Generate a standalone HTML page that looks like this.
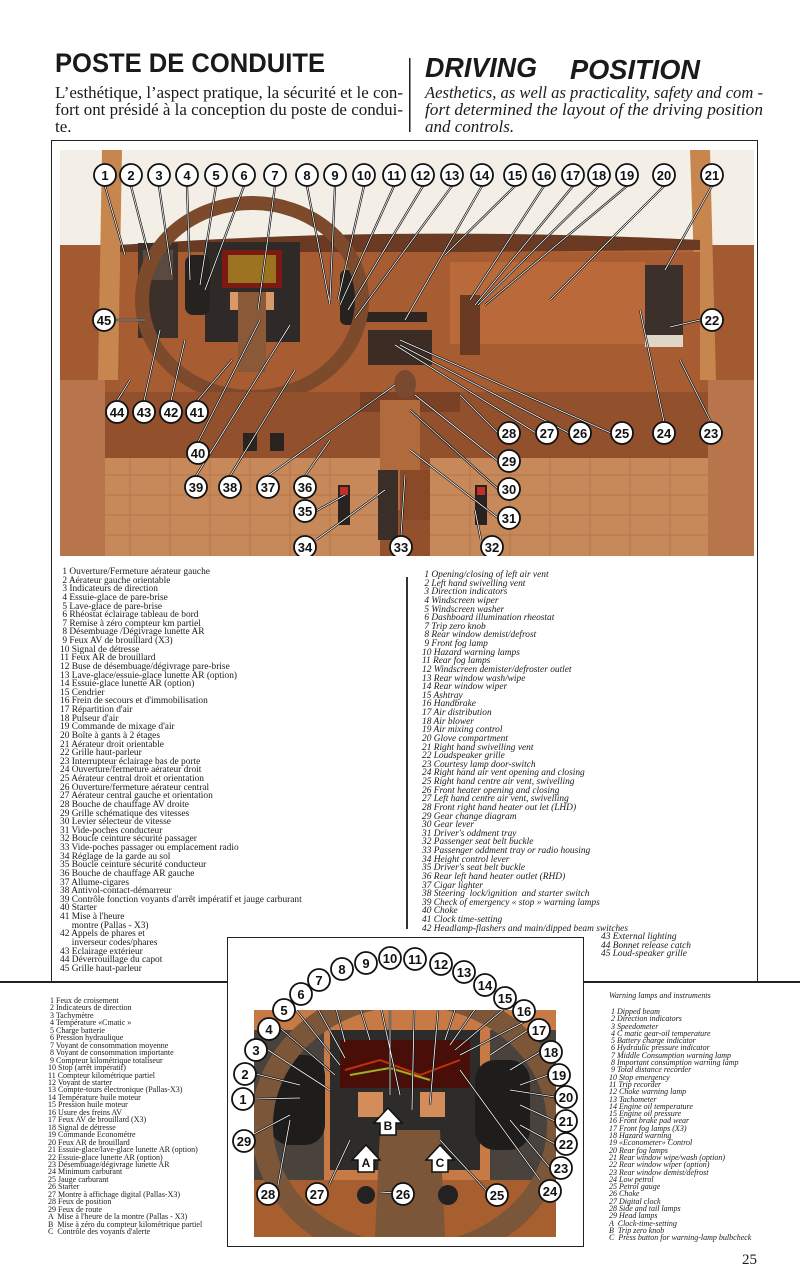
<!DOCTYPE html>
<html><head><meta charset="utf-8"><style>
*{margin:0;padding:0;box-sizing:border-box}
body{width:800px;height:1269px;background:#fff;position:relative;overflow:hidden;font-family:"Liberation Serif",serif;color:#1a1a1a}
.a{position:absolute}
.leg{font-size:9.4px;line-height:8.62px;white-space:pre}
.legi{font-size:9.4px;line-height:8.62px;white-space:pre;font-style:italic}
.sm{font-size:8px;line-height:7.45px;white-space:pre}
.smi{font-size:8px;line-height:7.3px;white-space:pre;font-style:italic}
</style></head><body>
<svg class="a" style="left:0;top:0" width="800" height="140" viewBox="0 0 800 140">
<g fill="#1a1a1a">
<text x="55" y="72" font-family="Liberation Sans, sans-serif" font-weight="bold" font-size="27" textLength="270" lengthAdjust="spacingAndGlyphs">POSTE DE CONDUITE</text>
<text x="425" y="77" font-family="Liberation Sans, sans-serif" font-weight="bold" font-style="italic" font-size="28" textLength="112" lengthAdjust="spacingAndGlyphs">DRIVING</text>
<text x="570" y="79" font-family="Liberation Sans, sans-serif" font-weight="bold" font-style="italic" font-size="28" textLength="130" lengthAdjust="spacingAndGlyphs">POSITION</text>
<g font-family="Liberation Serif, serif" font-size="17">
<text x="55" y="98" textLength="348" lengthAdjust="spacingAndGlyphs">L’esthétique, l’aspect pratique, la sécurité et le con-</text>
<text x="55" y="115" textLength="348" lengthAdjust="spacingAndGlyphs">fort ont présidé à la conception du poste de condui-</text>
<text x="55" y="132">te.</text>
</g>
<g font-family="Liberation Serif, serif" font-size="17" font-style="italic">
<text x="425" y="98" textLength="338" lengthAdjust="spacingAndGlyphs">Aesthetics, as well as practicality, safety and com -</text>
<text x="425" y="115" textLength="338" lengthAdjust="spacingAndGlyphs">fort determined the layout of the driving position</text>
<text x="425" y="132">and controls.</text>
</g>
</g>
<rect x="409" y="58" width="1.5" height="74" fill="#222"/>
</svg>

<div class="a" style="left:51px;top:140px;width:707px;height:842px;border:1.5px solid #222"></div>
<div class="a" style="left:406px;top:577px;width:1.5px;height:352px;background:#333"></div>

<svg class="a" style="left:60px;top:150px" width="694" height="406" viewBox="60 150 694 406">
<rect x="60" y="150" width="694" height="406" fill="#b36536"/>
<rect x="60" y="150" width="694" height="95" fill="#f3eee6"/>
<rect x="60" y="245" width="60" height="311" fill="#a45a30"/>
<rect x="700" y="245" width="54" height="311" fill="#a45a30"/>
<polygon points="102,150 122,150 118,380 98,380" fill="#c8864f"/>
<polygon points="690,150 710,150 716,380 698,380" fill="#c8864f"/>
<path d="M120,245 Q400,225 700,240 L700,250 L120,255Z" fill="#6a3a22"/>
<rect x="120" y="252" width="580" height="140" fill="#a85c31"/>
<rect x="138" y="243" width="40" height="95" fill="#3b302a"/>
<rect x="143" y="250" width="30" height="30" fill="#5a4a40"/>
<rect x="645" y="265" width="38" height="70" fill="#3b302a"/>
<rect x="645" y="335" width="38" height="12" fill="#e0d6c8"/>
<rect x="450" y="262" width="195" height="82" fill="#b9693a"/>
<rect x="460" y="295" width="20" height="60" fill="#6b3a22"/>
<rect x="368" y="330" width="64" height="35" fill="#3c2c24"/>
<rect x="365" y="312" width="62" height="10" fill="#2e2420"/>
<rect x="205" y="242" width="95" height="100" fill="#2f2a28"/>
<rect x="222" y="250" width="60" height="38" fill="#7a1a10"/>
<rect x="228" y="255" width="48" height="28" fill="#b8c030" opacity="0.55"/>
<rect x="230" y="292" width="14" height="18" fill="#d89868"/>
<rect x="260" y="292" width="14" height="18" fill="#d89868"/>
<rect x="185" y="255" width="25" height="60" rx="8" fill="#262220"/>
<rect x="340" y="270" width="20" height="55" rx="6" fill="#262220"/>
<ellipse cx="252" cy="300" rx="110" ry="97" fill="none" stroke="#7d4a2c" stroke-width="14"/>
<rect x="238" y="292" width="28" height="80" fill="#8a5a38"/>
<rect x="60" y="392" width="694" height="164" fill="#93502c"/>
<rect x="360" y="392" width="100" height="20" fill="#7a4124"/>
<rect x="380" y="400" width="40" height="110" fill="#b06a3c"/>
<ellipse cx="405" cy="384" rx="11" ry="14" fill="#7a4a30"/>
<rect x="243" y="433" width="14" height="18" fill="#2a2420"/>
<rect x="270" y="433" width="14" height="18" fill="#2a2420"/>
<rect x="60" y="458" width="320" height="98" fill="#c8895a"/>
<rect x="430" y="458" width="324" height="98" fill="#c8895a"/>
<g stroke="#a86a40" stroke-width="1" opacity="0.6">
<path d="M60,475H380M60,495H380M60,515H380M60,535H380M430,475H754M430,495H754M430,515H754M430,535H754"/>
<path d="M90,458V556M130,458V556M170,458V556M210,458V556M250,458V556M290,458V556M330,458V556M470,458V556M510,458V556M550,458V556M590,458V556M630,458V556M670,458V556M710,458V556"/>
</g>
<rect x="378" y="470" width="20" height="70" fill="#3a2e28"/>
<rect x="400" y="470" width="30" height="50" fill="#8a4a28"/>
<rect x="338" y="485" width="12" height="40" fill="#2a2220"/>
<rect x="475" y="485" width="12" height="40" fill="#2a2220"/>
<rect x="340" y="487" width="8" height="8" fill="#c0302a"/>
<rect x="477" y="487" width="8" height="8" fill="#c0302a"/>
<rect x="60" y="380" width="45" height="176" fill="#b8744a"/>
<rect x="708" y="380" width="46" height="176" fill="#b8744a"/>
<g stroke="#111" stroke-width="2.2" fill="none">
<path d="M105,186L125,255M131,186L150,260M159,186L172,275M187,186L190,280M216,186L200,285M244,186L205,290M275,186L258,310M307,186L330,305M335,186L330,300M364,186L338,300M394,186L340,305M423,186L348,310M452,186L355,318M482,186L405,320M515,186L445,255M544,186L470,300M573,186L475,305M599,186L478,305M627,186L485,305M664,186L550,300M712,186L665,270M114,320L145,320M700,320L670,327M117,401L130,380M144,401L160,330M171,401L185,340M197,401L232,360M198,442L260,320M196,476L290,325M230,476L295,370M268,476L395,385M305,476L330,440M316,511L345,495M316,540L385,490M401,536L405,475M481,540L475,510M498,433L460,395M536,433L395,345M569,433L400,345M611,433L400,340M664,422L640,310M711,422L680,360M498,461L415,395M498,489L410,410M498,518L410,450"/>
</g>
<g stroke="#fff" stroke-width="0.8" fill="none">
<path d="M105,186L125,255M131,186L150,260M159,186L172,275M187,186L190,280M216,186L200,285M244,186L205,290M275,186L258,310M307,186L330,305M335,186L330,300M364,186L338,300M394,186L340,305M423,186L348,310M452,186L355,318M482,186L405,320M515,186L445,255M544,186L470,300M573,186L475,305M599,186L478,305M627,186L485,305M664,186L550,300M712,186L665,270M114,320L145,320M700,320L670,327M117,401L130,380M144,401L160,330M171,401L185,340M197,401L232,360M198,442L260,320M196,476L290,325M230,476L295,370M268,476L395,385M305,476L330,440M316,511L345,495M316,540L385,490M401,536L405,475M481,540L475,510M498,433L460,395M536,433L395,345M569,433L400,345M611,433L400,340M664,422L640,310M711,422L680,360M498,461L415,395M498,489L410,410M498,518L410,450"/>
</g>
<g font-family="Liberation Sans, sans-serif" font-weight="bold" font-size="13" text-anchor="middle" fill="#111">
<g fill="#fff" stroke="#111" stroke-width="1.8">
<circle cx="105" cy="175" r="11"/><circle cx="131" cy="175" r="11"/><circle cx="159" cy="175" r="11"/><circle cx="187" cy="175" r="11"/><circle cx="216" cy="175" r="11"/><circle cx="244" cy="175" r="11"/><circle cx="275" cy="175" r="11"/><circle cx="307" cy="175" r="11"/><circle cx="335" cy="175" r="11"/><circle cx="364" cy="175" r="11"/><circle cx="394" cy="175" r="11"/><circle cx="423" cy="175" r="11"/><circle cx="452" cy="175" r="11"/><circle cx="482" cy="175" r="11"/><circle cx="515" cy="175" r="11"/><circle cx="544" cy="175" r="11"/><circle cx="573" cy="175" r="11"/><circle cx="599" cy="175" r="11"/><circle cx="627" cy="175" r="11"/><circle cx="664" cy="175" r="11"/><circle cx="712" cy="175" r="11"/>
<circle cx="104" cy="320" r="11"/><circle cx="712" cy="320" r="11"/>
<circle cx="117" cy="412" r="11"/><circle cx="144" cy="412" r="11"/><circle cx="171" cy="412" r="11"/><circle cx="197" cy="412" r="11"/><circle cx="198" cy="453" r="11"/>
<circle cx="196" cy="487" r="11"/><circle cx="230" cy="487" r="11"/><circle cx="268" cy="487" r="11"/><circle cx="305" cy="487" r="11"/><circle cx="305" cy="511" r="11"/>
<circle cx="305" cy="547" r="11"/><circle cx="401" cy="547" r="11"/><circle cx="492" cy="547" r="11"/>
<circle cx="509" cy="433" r="11"/><circle cx="547" cy="433" r="11"/><circle cx="580" cy="433" r="11"/><circle cx="622" cy="433" r="11"/><circle cx="664" cy="433" r="11"/><circle cx="711" cy="433" r="11"/>
<circle cx="509" cy="461" r="11"/><circle cx="509" cy="489" r="11"/><circle cx="509" cy="518" r="11"/>
</g>
<text x="105" y="180">1</text><text x="131" y="180">2</text><text x="159" y="180">3</text><text x="187" y="180">4</text><text x="216" y="180">5</text><text x="244" y="180">6</text><text x="275" y="180">7</text><text x="307" y="180">8</text><text x="335" y="180">9</text><text x="364" y="180">10</text><text x="394" y="180">11</text><text x="423" y="180">12</text><text x="452" y="180">13</text><text x="482" y="180">14</text><text x="515" y="180">15</text><text x="544" y="180">16</text><text x="573" y="180">17</text><text x="599" y="180">18</text><text x="627" y="180">19</text><text x="664" y="180">20</text><text x="712" y="180">21</text>
<text x="104" y="325">45</text><text x="712" y="325">22</text>
<text x="117" y="417">44</text><text x="144" y="417">43</text><text x="171" y="417">42</text><text x="197" y="417">41</text><text x="198" y="458">40</text>
<text x="196" y="492">39</text><text x="230" y="492">38</text><text x="268" y="492">37</text><text x="305" y="492">36</text><text x="305" y="516">35</text>
<text x="305" y="552">34</text><text x="401" y="552">33</text><text x="492" y="552">32</text>
<text x="509" y="438">28</text><text x="547" y="438">27</text><text x="580" y="438">26</text><text x="622" y="438">25</text><text x="664" y="438">24</text><text x="711" y="438">23</text>
<text x="509" y="466">29</text><text x="509" y="494">30</text><text x="509" y="523">31</text>
</g>
</svg>

<div class="a leg" style="left:60px;top:568px"> 1 Ouverture/Fermeture aérateur gauche
 2 Aérateur gauche orientable
 3 Indicateurs de direction
 4 Essuie-glace de pare-brise
 5 Lave-glace de pare-brise
 6 Rhéostat éclairage tableau de bord
 7 Remise à zéro compteur km partiel
 8 Désembuage /Dégivrage lunette AR
 9 Feux AV de brouillard (X3)
10 Signal de détresse
11 Feux AR de brouillard
12 Buse de désembuage/dégivrage pare-brise
13 Lave-glace/essuie-glace lunette AR (option)
14 Essuie-glace lunette AR (option)
15 Cendrier
16 Frein de secours et d'immobilisation
17 Répartition d'air
18 Pulseur d'air
19 Commande de mixage d'air
20 Boîte à gants à 2 étages
21 Aérateur droit orientable
22 Grille haut-parleur
23 Interrupteur éclairage bas de porte
24 Ouverture/fermeture aérateur droit
25 Aérateur central droit et orientation
26 Ouverture/fermeture aérateur central
27 Aérateur central gauche et orientation
28 Bouche de chauffage AV droite
29 Grille schématique des vitesses
30 Levier sélecteur de vitesse
31 Vide-poches conducteur
32 Boucle ceinture sécurité passager
33 Vide-poches passager ou emplacement radio
34 Réglage de la garde au sol
35 Boucle ceinture sécurité conducteur
36 Bouche de chauffage AR gauche
37 Allume-cigares
38 Antivol-contact-démarreur
39 Contrôle fonction voyants d'arrêt impératif et jauge carburant
40 Starter
41 Mise à l'heure
     montre (Pallas - X3)
42 Appels de phares et
     inverseur codes/phares
43 Eclairage extérieur
44 Déverrouillage du capot
45 Grille haut-parleur</div>

<div class="a legi" style="left:422px;top:571px"> 1 Opening/closing of left air vent
 2 Left hand swivelling vent
 3 Direction indicators
 4 Windscreen wiper
 5 Windscreen washer
 6 Dashboard illumination rheostat
 7 Trip zero knob
 8 Rear window demist/defrost
 9 Front fog lamp
10 Hazard warning lamps
11 Rear fog lamps
12 Windscreen demister/defroster outlet
13 Rear window wash/wipe
14 Rear window wiper
15 Ashtray
16 Handbrake
17 Air distribution
18 Air blower
19 Air mixing control
20 Glove compartment
21 Right hand swivelling vent
22 Loudspeaker grille
23 Courtesy lamp door-switch
24 Right hand air vent opening and closing
25 Right hand centre air vent, swivelling
26 Front heater opening and closing
27 Left hand centre air vent, swivelling
28 Front right hand heater out let (LHD)
29 Gear change diagram
30 Gear lever
31 Driver's oddment tray
32 Passenger seat belt buckle
33 Passenger oddment tray or radio housing
34 Height control lever
35 Driver's seat belt buckle
36 Rear left hand heater outlet (RHD)
37 Cigar lighter
38 Steering  lock/ignition  and starter switch
39 Check of emergency « stop » warning lamps
40 Choke
41 Clock time-setting
42 Headlamp-flashers and main/dipped beam switches</div>
<div class="a legi" style="left:601px;top:933px">43 External lighting
44 Bonnet release catch
45 Loud-speaker grille</div>

<div class="a" style="left:0;top:981px;width:227px;height:1.5px;background:#222"></div>
<div class="a" style="left:583px;top:981px;width:217px;height:1.5px;background:#222"></div>
<div class="a" style="left:227px;top:937px;width:357px;height:310px;border:1.5px solid #222;background:#fff"></div>

<svg class="a" style="left:254px;top:1010px" width="302" height="227" viewBox="254 1010 302 227">
<rect x="254" y="1010" width="302" height="227" fill="#c77a45"/>
<rect x="254" y="1030" width="70" height="190" fill="#4a423c"/>
<rect x="490" y="1030" width="66" height="190" fill="#4a423c"/>
<rect x="330" y="1030" width="150" height="140" fill="#2e2c2a"/>
<rect x="340" y="1040" width="130" height="48" fill="#4a0e08"/>
<path d="M345,1070 L380,1060 L420,1075 L460,1060" stroke="#c03010" stroke-width="2" fill="none"/>
<path d="M350,1075 L390,1068 L430,1080" stroke="#a0b020" stroke-width="2" fill="none"/>
<rect x="358" y="1092" width="25" height="25" fill="#d48c5a"/>
<rect x="420" y="1092" width="25" height="25" fill="#d48c5a"/>
<rect x="270" y="1055" width="55" height="90" rx="20" fill="#1f1d1c"/>
<rect x="475" y="1060" width="55" height="90" rx="20" fill="#1f1d1c"/>
<rect x="254" y="1180" width="302" height="57" fill="#a85f30"/>
<ellipse cx="410" cy="1125" rx="148" ry="130" fill="none" stroke="#7b5638" stroke-width="22"/>
<path d="M380,1130 L440,1130 L445,1237 L375,1237Z" fill="#7b5638"/>
<circle cx="366" cy="1195" r="9" fill="#222"/><circle cx="448" cy="1195" r="10" fill="#222"/>
<g stroke="#111" stroke-width="2.2" fill="none">
<path d="M254,1099L300,1098M256,1074L300,1085M268,1050L330,1090M281,1029L335,1075M296,1010L340,1065M313,1000L345,1058M331,990L345,1042M352,982L370,1040M374,976L400,1095M390,970L390,1095M415,970L412,1110M441,975L430,1105M464,983L445,1040M485,995L450,1045M505,1008L455,1050M524,1022L460,1055M528,1030L490,1055M540,1052L510,1070M548,1075L520,1085M555,1097L510,1090M555,1121L520,1105M555,1144L520,1125M550,1168L510,1120M540,1180L460,1070M486,1190L440,1140M414,1194L380,1192M329,1185L350,1140M278,1185L290,1120M252,1135L290,1115"/>
</g>
<g stroke="#fff" stroke-width="0.8" fill="none">
<path d="M254,1099L300,1098M256,1074L300,1085M268,1050L330,1090M281,1029L335,1075M296,1010L340,1065M313,1000L345,1058M331,990L345,1042M352,982L370,1040M374,976L400,1095M390,970L390,1095M415,970L412,1110M441,975L430,1105M464,983L445,1040M485,995L450,1045M505,1008L455,1050M524,1022L460,1055M528,1030L490,1055M540,1052L510,1070M548,1075L520,1085M555,1097L510,1090M555,1121L520,1105M555,1144L520,1125M550,1168L510,1120M540,1180L460,1070M486,1190L440,1140M414,1194L380,1192M329,1185L350,1140M278,1185L290,1120M252,1135L290,1115"/>
</g>
<g fill="#fff" stroke="#111" stroke-width="1.5">
<path d="M358,1172 V1160 H352 L366,1145 L380,1160 H374 V1172Z"/>
<path d="M380,1135 V1123 H374 L388,1108 L402,1123 H396 V1135Z"/>
<path d="M432,1172 V1160 H426 L440,1145 L454,1160 H448 V1172Z"/>
</g>
<g font-family="Liberation Sans, sans-serif" font-weight="bold" font-size="12" text-anchor="middle" fill="#111">
<text x="366" y="1167">A</text><text x="388" y="1130">B</text><text x="440" y="1167">C</text>
</g>
</svg>
<svg class="a" style="left:227px;top:937px" width="357" height="310" viewBox="227 937 357 310">
<g font-family="Liberation Sans, sans-serif" font-weight="bold" font-size="13" text-anchor="middle" fill="#111">
<g fill="#fff" stroke="#111" stroke-width="1.8">
<circle cx="243" cy="1099" r="11"/><circle cx="245" cy="1074" r="11"/><circle cx="256" cy="1050" r="11"/><circle cx="269" cy="1029" r="11"/><circle cx="284" cy="1010" r="11"/><circle cx="301" cy="994" r="11"/><circle cx="319" cy="980" r="11"/><circle cx="342" cy="969" r="11"/><circle cx="366" cy="963" r="11"/><circle cx="390" cy="958" r="11"/><circle cx="415" cy="959" r="11"/><circle cx="441" cy="964" r="11"/><circle cx="464" cy="972" r="11"/><circle cx="485" cy="985" r="11"/><circle cx="505" cy="998" r="11"/><circle cx="524" cy="1011" r="11"/><circle cx="539" cy="1030" r="11"/><circle cx="551" cy="1052" r="11"/><circle cx="559" cy="1075" r="11"/><circle cx="566" cy="1097" r="11"/><circle cx="566" cy="1121" r="11"/><circle cx="566" cy="1144" r="11"/><circle cx="561" cy="1168" r="11"/><circle cx="550" cy="1191" r="11"/><circle cx="497" cy="1195" r="11"/><circle cx="403" cy="1194" r="11"/><circle cx="317" cy="1194" r="11"/><circle cx="268" cy="1194" r="11"/><circle cx="244" cy="1141" r="11"/>
</g>
<text x="243" y="1104">1</text><text x="245" y="1079">2</text><text x="256" y="1055">3</text><text x="269" y="1034">4</text><text x="284" y="1015">5</text><text x="301" y="999">6</text><text x="319" y="985">7</text><text x="342" y="974">8</text><text x="366" y="968">9</text><text x="390" y="963">10</text><text x="415" y="964">11</text><text x="441" y="969">12</text><text x="464" y="977">13</text><text x="485" y="990">14</text><text x="505" y="1003">15</text><text x="524" y="1016">16</text><text x="539" y="1035">17</text><text x="551" y="1057">18</text><text x="559" y="1080">19</text><text x="566" y="1102">20</text><text x="566" y="1126">21</text><text x="566" y="1149">22</text><text x="561" y="1173">23</text><text x="550" y="1196">24</text><text x="497" y="1200">25</text><text x="403" y="1199">26</text><text x="317" y="1199">27</text><text x="268" y="1199">28</text><text x="244" y="1146">29</text>
</g>
</svg>

<div class="a sm" style="left:48px;top:997px"> 1 Feux de croisement
 2 Indicateurs de direction
 3 Tachymètre
 4 Température «Cmatic »
 5 Charge batterie
 6 Pression hydraulique
 7 Voyant de consommation moyenne
 8 Voyant de consommation importante
 9 Compteur kilométrique totaliseur
10 Stop (arrêt impératif)
11 Compteur kilométrique partiel
12 Voyant de starter
13 Compte-tours électronique (Pallas-X3)
14 Température huile moteur
15 Pression huile moteur
16 Usure des freins AV
17 Feux AV de brouillard (X3)
18 Signal de détresse
19 Commande Econométre
20 Feux AR de brouillard
21 Essuie-glace/lave-glace lunette AR (option)
22 Essuie-glace lunette AR (option)
23 Désembuage/dégivrage lunette AR
24 Minimum carburant
25 Jauge carburant
26 Starter
27 Montre à affichage digital (Pallas-X3)
28 Feux de position
29 Feux de route
A  Mise à l'heure de la montre (Pallas - X3)
B  Mise à zéro du compteur kilométrique partiel
C  Contrôle des voyants d'alerte</div>

<div class="a smi" style="left:609px;top:992px">Warning lamps and instruments</div>
<div class="a smi" style="left:609px;top:1008px"> 1 Dipped beam
 2 Direction indicators
 3 Speedometer
 4 C matic gear-oil temperature
 5 Battery charge indicator
 6 Hydraulic pressure indicator
 7 Middle Consumption warning lamp
 8 Important consumption warning lamp
 9 Total distance recorder
10 Stop emergency
11 Trip recorder
12 Choke warning lamp
13 Tachometer
14 Engine oil temperature
15 Engine oil pressure
16 Front brake pad wear
17 Front fog lamps (X3)
18 Hazard warning
19 «Econometer» Control
20 Rear fog lamps
21 Rear window wipe/wash (option)
22 Rear window wiper (option)
23 Rear window demist/defrost
24 Low petrol
25 Petrol gauge
26 Choke
27 Digital clock
28 Side and tail lamps
29 Head lamps
A  Clock-time-setting
B  Trip zero knob
C  Press button for warning-lamp bulbcheck</div>

<div class="a" style="left:742px;top:1252px;font-size:15px">25</div>
</body></html>
